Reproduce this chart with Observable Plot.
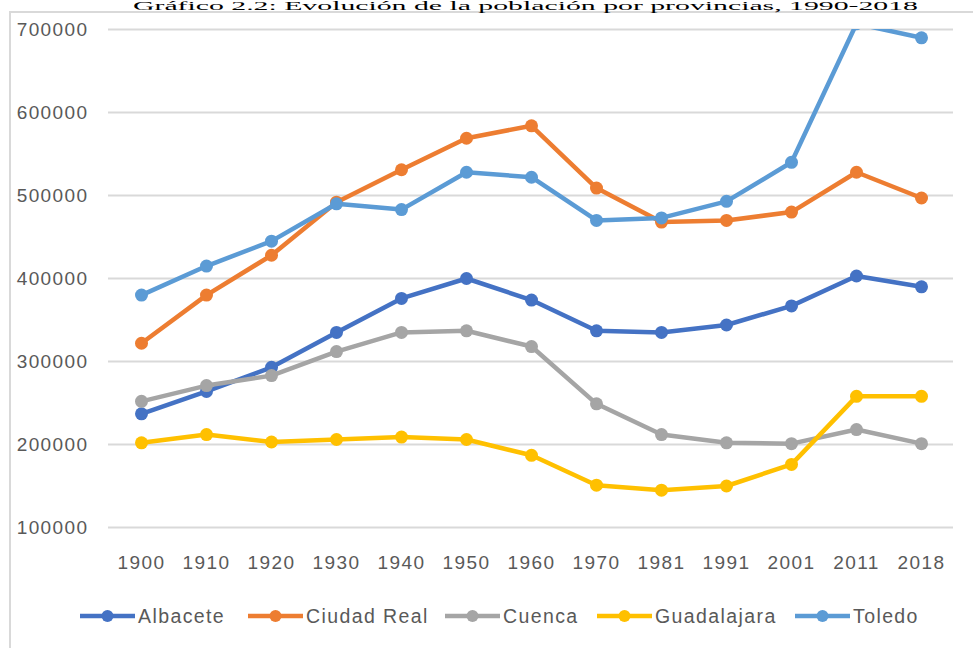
<!DOCTYPE html>
<html>
<head>
<meta charset="utf-8">
<script src="https://cdn.jsdelivr.net/npm/d3@7"></script>
<script src="https://cdn.jsdelivr.net/npm/@observablehq/plot@0.6"></script>
<style>
  html, body { margin: 0; padding: 0; background: #fff; }
  #wrap { position: relative; width: 973px; height: 648px; overflow: hidden; background: #fff; }
  #title { position: absolute; left: 525px; top: 0px; height: 12px; transform-origin: 0 0;
           font-family: "Liberation Serif", serif; font-size: 12px; line-height: 12px; color: #000; white-space: nowrap; }
  #frame { position: absolute; left: 9px; top: 11px; width: 1000px; height: 700px;
           border-left: 2px solid #d9d9d9; border-top: 2px solid #d9d9d9; }
  #chart { position: absolute; left: 0; top: 0; }
  #chart svg text { letter-spacing: 1.4px; }
  #legend { position: absolute; left: 0; top: 604px; width: 973px; height: 24px;
            font-family: "Liberation Sans", sans-serif; font-size: 19.5px; color: #595959; letter-spacing: 1.4px; }
  .item { position: absolute; top: 0; display: flex; align-items: center; height: 24px; white-space: nowrap; }
  .item svg { margin-right: 3px; }
</style>
</head>
<body>
<div id="wrap">
  <div id="frame"></div>
  <div id="title">Gráfico 2.2: Evolución de la población por provincias, 1990-2018</div>
  <div id="chart"></div>
  <div id="legend"></div>
</div>
<script>
const years = ["1900","1910","1920","1930","1940","1950","1960","1970","1981","1991","2001","2011","2018"];
const seriesNames = ["Albacete","Ciudad Real","Cuenca","Guadalajara","Toledo"];
const seriesColors = ["#4472C4","#ED7D31","#A5A5A5","#FFC000","#5B9BD5"];
const albacete    = [237000, 264000, 293000, 335000, 376000, 400000, 374000, 337000, 335000, 344000, 367000, 403000, 390000];
const ciudadReal  = [322000, 380000, 428000, 492000, 531000, 569000, 584000, 509000, 468000, 470000, 480000, 528000, 497000];
const cuenca      = [252000, 271000, 283000, 312000, 335000, 337000, 318000, 249000, 212000, 202000, 201000, 218000, 201000];
const guadalajara = [202000, 212000, 203000, 206000, 209000, 206000, 187000, 151000, 145000, 150000, 176000, 258000, 258000];
const toledo      = [380000, 415000, 445000, 490000, 483000, 528000, 522000, 470000, 473000, 493000, 540000, 707000, 690000];
const yTicks = [100000, 200000, 300000, 400000, 500000, 600000, 700000];

const seriesValues = [albacete, ciudadReal, cuenca, guadalajara, toledo];
const data = seriesNames.flatMap((name, i) =>
  years.map((year, j) => ({series: name, year, value: seriesValues[i][j]})));

const seriesMarks = seriesNames.flatMap((name, i) => {
  const d = data.filter(r => r.series === name);
  return [
    Plot.line(d, {x: "year", y: "value", stroke: "series", strokeWidth: 4.5, clip: "frame"}),
    Plot.dot(d, {x: "year", y: "value", fill: "series", r: 6.5, clip: "frame"})
  ];
});

const chart = Plot.plot({
  width: 973,
  height: 590,
  marginTop: 29,
  marginBottom: 63,
  marginLeft: 108,
  marginRight: 20,
  style: {fontFamily: "Liberation Sans, sans-serif", fontSize: "19px", color: "#595959", background: "transparent"},
  x: {type: "point", domain: years, padding: 0.5},
  y: {domain: [100000, 700000]},
  color: {domain: seriesNames, range: seriesColors},
  marks: [
    Plot.ruleY(yTicks, {stroke: "#d9d9d9", strokeWidth: 2}),
    Plot.axisY(yTicks, {tickSize: 0, tickPadding: 20, tickFormat: d => String(d), label: null, fill: "#595959"}),
    Plot.axisX({tickSize: 0, tickPadding: 28, label: null, fill: "#595959"}),
    ...seriesMarks
  ]
});
document.getElementById("chart").appendChild(chart);

// Title: shrunk to fit the narrow strip above the frame, stretched to the reference's span (x 133..918)
const title = document.getElementById("title");
const tw = title.getBoundingClientRect().width;
const targetW = 785;
const sx = targetW / tw;
title.style.left = (525 - targetW / 2) + "px";
title.style.transform = `scaleX(${sx})`;

// Legend: items placed at the reference's left positions
const legendLefts = [80, 248, 445, 597, 795];
const legend = document.getElementById("legend");
seriesNames.forEach((name, i) => {
  const item = document.createElement("div");
  item.className = "item";
  item.style.left = legendLefts[i] + "px";
  item.innerHTML = `<svg width="55" height="16"><line x1="0" x2="55" y1="8" y2="8" stroke="${seriesColors[i]}" stroke-width="4.5"/><circle cx="27.5" cy="8" r="6" fill="${seriesColors[i]}"/></svg><span>${name}</span>`;
  legend.appendChild(item);
});
</script>
</body>
</html>
